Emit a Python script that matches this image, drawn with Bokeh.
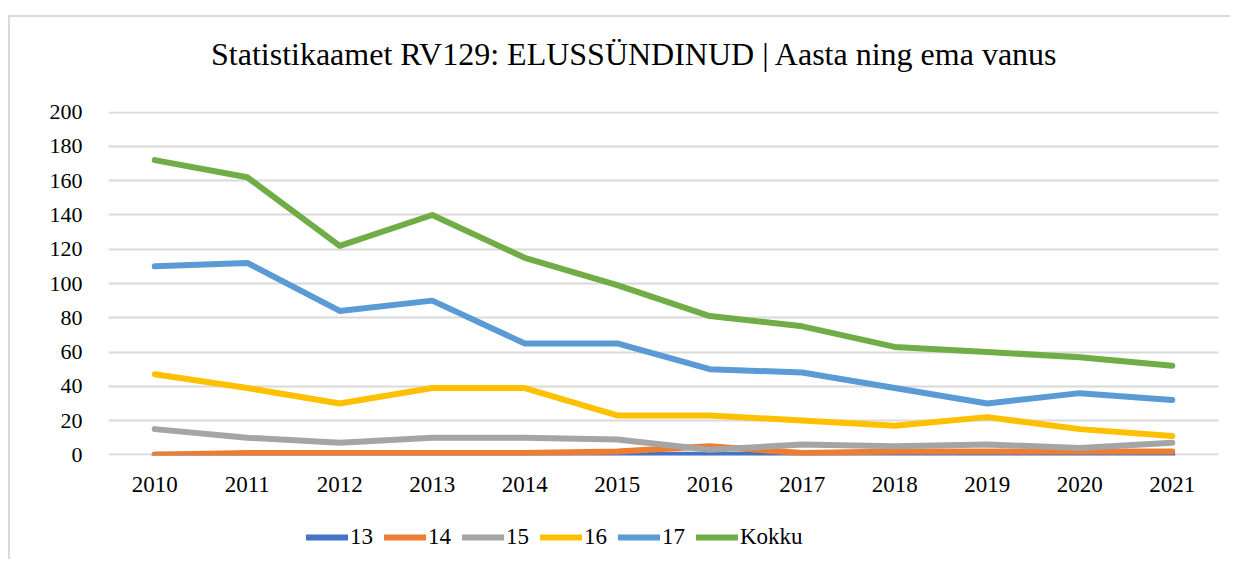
from bokeh.plotting import figure
from bokeh.models import Legend, LegendItem, FixedTicker, Range1d, Div
from bokeh.layouts import column
from bokeh.embed import file_html
from bokeh.resources import INLINE

years = [2010, 2011, 2012, 2013, 2014, 2015, 2016, 2017, 2018, 2019, 2020, 2021]
s13 = [0, 0, 0, 0, 0, 0, 0, 0, 0, 0, 0, 0]
s14 = [0, 1, 1, 1, 1, 2, 5, 1, 2, 2, 2, 2]
s15 = [15, 10, 7, 10, 10, 9, 3, 6, 5, 6, 4, 7]
s16 = [47, 39, 30, 39, 39, 23, 23, 20, 17, 22, 15, 11]
s17 = [110, 112, 84, 90, 65, 65, 50, 48, 39, 30, 36, 32]
kokku = [172, 162, 122, 140, 115, 99, 81, 75, 63, 60, 57, 52]
series_names = ["13", "14", "15", "16", "17", "Kokku"]
colors = ["#4472C4", "#ED7D31", "#A5A5A5", "#FFC000", "#5B9BD5", "#70AD47"]
y_ticks = [0, 20, 40, 60, 80, 100, 120, 140, 160, 180, 200]
title_text = "Statistikaamet RV129: ELUSSÜNDINUD | Aasta ning ema vanus"

FONT = "Liberation Serif"

title_div = Div(
    text=('<div style="padding-top:19px; padding-left:201px; font-family:\'Liberation Serif\';'
          ' font-size:32px; color:black; white-space:nowrap; line-height:normal;">'
          + title_text + '</div>'),
    width=1220, height=60, margin=(0, 0, 0, 0))

p = figure(width=1220, height=418, output_backend="svg", toolbar_location=None,
           x_range=Range1d(years[0] - 0.5, years[-1] + 0.5), y_range=Range1d(-0.4, 200.4),
           min_border_left=98, min_border_right=12, min_border_top=34, min_border_bottom=40)

p.outline_line_color = None
p.background_fill_color = "white"
p.border_fill_color = "white"

p.xgrid.grid_line_color = None
p.ygrid.grid_line_color = "#D9D9D9"
p.ygrid.grid_line_width = 2
p.ygrid.ticker = FixedTicker(ticks=y_ticks)

p.yaxis.ticker = FixedTicker(ticks=y_ticks)
p.xaxis.ticker = FixedTicker(ticks=years)
for ax in (p.xaxis, p.yaxis):
    ax.axis_line_color = None
    ax.major_tick_line_color = None
    ax.minor_tick_line_color = None
    ax.major_label_text_font = FONT
    ax.major_label_text_color = "black"
p.xaxis.major_label_text_font_size = "23px"
p.yaxis.major_label_text_font_size = "22px"
p.yaxis.major_label_standoff = 20
p.xaxis.major_label_standoff = 15

all_series = [s13, s14, s15, s16, s17, kokku]
for name, data, c in zip(series_names, all_series, colors):
    p.line(years, data, line_color=c, line_width=6, line_cap="round", line_join="round")

# legend strip below the chart
p2 = figure(width=1220, height=64, output_backend="svg", toolbar_location=None,
            x_range=Range1d(0, 1), y_range=Range1d(0, 1),
            min_border_left=0, min_border_right=0, min_border_top=0, min_border_bottom=0)
p2.axis.visible = False
p2.grid.grid_line_color = None
p2.outline_line_color = None
p2.border_fill_color = "white"

items = []
for name, c in zip(series_names, colors):
    r = p2.line([5, 6], [5, 6], line_color=c, line_width=6, line_cap="round")
    items.append(LegendItem(label=name, renderers=[r]))

legend = Legend(items=items, orientation="horizontal", location=(198, 9))
legend.label_text_font = FONT
legend.label_text_font_size = "23px"
legend.label_text_color = "black"
legend.glyph_width = 42
legend.glyph_height = 22
legend.label_standoff = 2
legend.spacing = 11
legend.padding = 4
legend.margin = 0
legend.border_line_color = None
legend.background_fill_alpha = 0
p2.add_layout(legend)

layout = column(title_div, p, p2, spacing=0, margin=(15, 0, 0, 8),
                styles={"border-top": "2px solid #D9D9D9", "border-left": "2px solid #D9D9D9"})
open("out.html", "w").write(file_html(layout, INLINE))
